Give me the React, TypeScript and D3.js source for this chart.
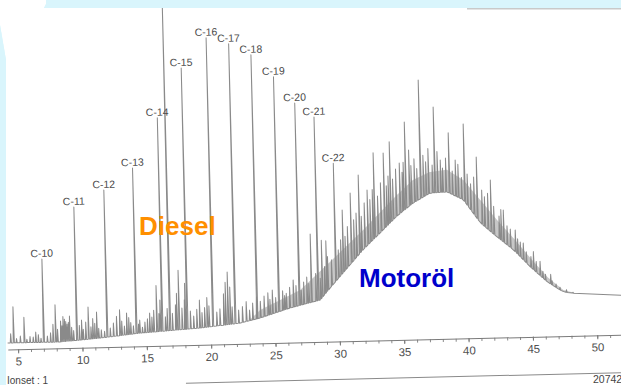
import React, { useEffect, useRef } from "react";
import * as d3 from "d3";

const width = 621;
const height = 385;

// n-alkane peaks: retention time (min) and signal height
const alkaneLabels = ["C-10", "C-11", "C-12", "C-13", "C-14", "C-15", "C-16", "C-17", "C-18", "C-19", "C-20", "C-21", "C-22"];
const alkaneTimes = [7.02, 9.6, 11.96, 14.23, 16.25, 18.2, 20.19, 21.93, 23.64, 25.35, 26.95, 28.42, 29.83];
const alkaneHeights = [25.4, 40.9, 45.8, 52.3, 67.3, 82.2, 91.2, 89.2, 85.7, 78.9, 70.8, 66.4, 52.2];

// off-scale peak right after C-14
const offScaleTime = 16.85;
const offScaleHeight = 106;

// lower edge of the trace (baseline + unresolved hump)
const baseTimes = [4.0, 8.26, 11.38, 14.49, 19.17, 22.29, 23.85, 26.2, 28.56, 29.36, 31.98, 33.34, 34.69, 35.96, 37.3, 38.62, 39.86, 41.14, 42.41, 43.65, 44.93, 46.23, 47.45, 48.75, 50.31, 51.94, 54];
const baseLevels = [0.2, 0.1, 1.0, 2.2, 3.3, 4.5, 5.9, 8.7, 10.9, 14.5, 25.8, 30.8, 35.8, 39.6, 42.5, 42.7, 40.2, 33.1, 28.7, 24.7, 19.4, 14.7, 11.5, 10.8, 9.8, 9.9, 9.9];

// upper edge of the dense grey band of the hump
const bandTimes = [23.0, 23.87, 27.02, 29.4, 32.02, 34.73, 35.98, 37.34, 38.65, 39.9, 41.18, 42.44, 43.66, 44.95, 46.24, 47.45, 48.5];
const bandLevels = [5.2, 8.3, 14.1, 22.4, 31.8, 42.2, 46.6, 48.9, 49.4, 46.2, 40.0, 33.8, 28.3, 22.1, 16.2, 12.1, 11.0];

// unlabeled peaks in the diesel range [time, height]
const dieselPeaks = [
  [4.68, 11.1], [5.51, 7.9], [6.4, 3.3], [7.95, 11.4], [8.54, 7.8], [8.75, 6.3], [9.05, 7.9],
  [9.98, 6.6], [10.51, 10.5], [11.16, 8.9], [12.95, 9.4], [13.49, 8.4], [14.5, 6.2], [15.28, 8.2],
  [15.83, 16.5], [16.1, 12.1], [17.57, 21.0], [18.05, 17.0], [19.17, 11.8], [19.56, 9.5],
  [21.38, 20.1], [21.55, 15.5], [23.05, 8.4], [23.6, 12.6], [24.85, 14.3], [25.93, 13.2],
  [26.49, 17.2], [27.1, 14.0], [27.9, 31.0], [28.75, 29.0], [29.1, 28.8],
];

// small "grass" peaks in the diesel range
const dieselGrass = [
  [4.45, 3.0], [4.9, 1.5], [5.2, 2.2], [5.7, 1.2], [5.95, 2.0], [6.2, 1.8], [6.6, 2.5], [6.8, 1.4],
  [7.3, 2.0], [7.55, 3.0], [7.75, 5.5], [8.1, 4.0], [8.35, 6.5], [8.45, 5.0], [8.65, 7.0], [8.85, 5.5],
  [8.95, 6.0], [9.2, 4.5], [9.35, 3.5], [9.8, 5.0], [10.1, 3.8], [10.3, 6.0], [10.7, 4.5], [10.85, 7.0],
  [11.0, 5.5], [11.3, 4.0], [11.5, 3.5], [11.75, 3.0], [12.2, 4.0], [12.45, 5.5], [12.7, 7.5], [13.1, 6.0],
  [13.3, 4.5], [13.65, 7.0], [13.8, 5.5], [14.0, 4.5], [14.4, 5.0], [14.7, 4.0], [14.9, 5.5], [15.1, 6.5],
  [15.45, 7.0], [15.6, 9.0], [16.0, 8.0], [16.5, 7.0], [16.65, 9.5], [17.05, 8.0], [17.3, 10.5], [17.4, 14.0],
  [17.8, 9.5], [18.0, 12.0], [18.45, 8.5], [18.7, 7.0], [18.95, 9.0], [19.35, 8.0], [19.75, 12.5], [19.9, 10.0],
  [20.5, 8.0], [20.75, 9.0], [21.05, 13.5], [21.2, 17.0], [21.7, 9.5], [22.2, 8.5], [22.5, 9.5], [22.8, 11.0],
  [23.3, 10.5], [23.9, 11.0], [24.2, 12.5], [24.5, 13.5], [24.65, 11.5], [25.1, 12.0], [25.65, 14.0], [25.8, 12.5],
  [26.2, 15.0], [26.7, 15.5], [27.3, 16.5], [27.55, 18.0], [27.7, 16.0],
];

// taller spikes standing out of the motor oil hump
const humpPeaks = [
  [30.43, 38.0], [31.08, 43.1], [31.74, 48.5], [32.4, 43.9], [32.94, 55.1], [33.72, 55.0], [34.21, 58.3],
  [34.95, 51.8], [35.42, 64.2], [35.7, 55.7], [36.58, 76.8], [37.69, 68.5], [38.14, 52.4], [38.81, 60.6],
  [39.3, 52.3], [39.99, 63.2], [40.94, 53.1], [41.99, 46.0], [42.94, 36.8], [43.83, 30.7], [44.43, 26.7],
  [45.2, 24.0], [45.7, 21.0], [46.5, 17.0],
];

// dense small peaks inside the hump
const humpGrass = [
  [28.25, 19], [28.6, 17.5], [28.95, 21], [29.2, 24], [29.5, 23], [30.05, 26], [30.25, 29], [30.6, 30],
  [30.8, 33], [31.3, 35], [31.5, 37], [31.9, 36], [32.15, 40], [32.6, 41], [32.8, 44], [33.2, 42],
  [33.45, 46], [33.9, 45], [34.05, 48], [34.4, 47], [34.65, 50], [35.15, 49], [35.25, 52], [35.85, 51],
  [36.1, 53], [36.3, 50], [36.8, 54], [37.0, 52], [37.2, 56], [37.5, 51], [37.9, 55], [38.3, 50],
  [38.55, 53], [39.05, 49], [39.5, 51], [39.75, 47], [40.2, 48], [40.45, 45], [40.7, 47], [41.3, 43],
  [41.5, 41], [41.75, 42], [42.2, 38], [42.6, 35], [42.75, 37], [43.2, 32], [43.45, 31], [44.0, 28],
  [44.2, 27], [44.65, 24], [45.0, 22.5], [45.4, 21], [45.9, 18], [46.1, 17], [46.6, 15], [46.9, 14],
  [47.2, 13], [47.7, 12.2], [48.2, 11.4],
];

const tickLabels = [5, 10, 15, 20, 25, 30, 35, 40, 45, 50];

const font = "'Liberation Sans', Arial, sans-serif";

export default function App() {
  const ref = useRef(null);

  useEffect(() => {
    const svg = d3.select(ref.current);
    svg.selectAll("*").remove();

    // paper
    svg.append("rect").attr("width", width).attr("height", height).attr("fill", "#d9f5fc");
    svg
      .append("polygon")
      .attr("points", "0,0 48,0 44,8 621,8 621,385 6,385 6,60 0,25")
      .attr("fill", "#ffffff");

    const axisY = 342;
    const x = d3.scaleLinear().domain([5, 50]).range([18, 597.3]);
    const y = d3.scaleLinear().domain([0, 100]).range([336, 6]);
    const base = d3.scaleLinear().domain(baseTimes).range(baseLevels).clamp(true);
    const band = d3.scaleLinear().domain(bandTimes).range(bandLevels).clamp(true);

    const g = svg.append("g").attr("transform", "rotate(-1.4, 320, 342)");

    // dense band of the hump
    const bandTs = Array.from(new Set([...bandTimes, ...baseTimes.filter((t) => t > 23 && t < 48.5)])).sort(
      (a, b) => a - b
    );
    g.append("path")
      .datum(bandTs)
      .attr(
        "d",
        d3
          .area()
          .x((t) => x(t))
          .y0((t) => y(base(t)))
          .y1((t) => y(band(t)))
      )
      .attr("fill", "#bdbdbd")
      .attr("opacity", 0.85);

    // trace
    const peaks = [
      ...alkaneTimes.map((t, i) => [t, alkaneHeights[i]]),
      [offScaleTime, offScaleHeight],
      ...dieselPeaks,
      ...dieselGrass,
      ...humpPeaks,
      ...humpGrass,
    ].sort((a, b) => a[0] - b[0]);

    const hw = 0.045;
    const pts = [[4.2, base(4.2)]];
    peaks.forEach(([t, v]) => {
      pts.push([t - hw, base(t - hw)], [t, Math.max(v, base(t) + 0.3)], [t + hw, base(t + hw)]);
    });
    pts.push([52.8, base(52.8)]);

    g.append("path")
      .datum(pts)
      .attr(
        "d",
        d3
          .line()
          .x((d) => x(d[0]))
          .y((d) => y(d[1]))
      )
      .attr("fill", "none")
      .attr("stroke", "#8a8a8a")
      .attr("stroke-width", 1)
      .attr("stroke-linejoin", "round");

    // peak labels
    g.selectAll("text.lbl")
      .data(alkaneLabels)
      .enter()
      .append("text")
      .attr("class", "lbl")
      .attr("x", (d, i) => x(alkaneTimes[i]))
      .attr("y", (d, i) => y(alkaneHeights[i]) - 2)
      .attr("text-anchor", "middle")
      .attr("font-family", font)
      .attr("font-size", 10.5)
      .attr("fill", "#4a4a4a")
      .text((d) => d);

    // time axis
    const xAxisScale = x.copy().domain([4.2, 52.8]).range([x(4.2), x(52.8)]);
    const minor = g
      .append("g")
      .attr("transform", `translate(0,${axisY})`)
      .call(d3.axisBottom(xAxisScale).tickValues(d3.range(5, 53)).tickSize(3).tickFormat(() => ""));
    minor.select(".domain").remove();
    minor.selectAll("line").attr("stroke", "#8a8a8a");

    const major = g
      .append("g")
      .attr("transform", `translate(0,${axisY})`)
      .call(d3.axisBottom(xAxisScale).tickValues(tickLabels).tickSize(4).tickSizeOuter(0).tickPadding(4));
    major.select(".domain").attr("stroke", "#7a7a7a");
    major.selectAll("line").attr("stroke", "#7a7a7a");
    major.selectAll("text").attr("font-family", font).attr("font-size", 11.5).attr("fill", "#505050");

    // box line near the bottom of the printout
    g.append("line")
      .attr("x1", 185)
      .attr("x2", 650)
      .attr("y1", 380)
      .attr("y2", 380)
      .attr("stroke", "#8a8a8a")
      .attr("stroke-width", 1);

    // cyan frame on top
    svg.append("rect").attr("x", 46).attr("y", 0).attr("width", width - 46).attr("height", 8).attr("fill", "#d9f5fc");
    svg.append("polygon").attr("points", "48,0 44,8 52,8 52,0").attr("fill", "#d9f5fc");
    svg.append("polygon").attr("points", "0,25 6,60 6,385 0,385").attr("fill", "#d9f5fc");
    svg.append("line")
      .attr("x1", 467)
      .attr("x2", 621)
      .attr("y1", 8.8)
      .attr("y2", 8.8)
      .attr("stroke", "#c9c9c9")
      .attr("stroke-width", 1.5);

    // footer texts
    svg.append("text")
      .attr("x", 7)
      .attr("y", 384)
      .attr("font-family", font)
      .attr("font-size", 10)
      .attr("fill", "#444")
      .text("Ionset : 1");
    svg.append("text")
      .attr("x", 593)
      .attr("y", 383)
      .attr("font-family", font)
      .attr("font-size", 10.5)
      .attr("fill", "#444")
      .text("20742");

    // annotations
    svg.append("text")
      .attr("x", 139)
      .attr("y", 235)
      .attr("font-family", font)
      .attr("font-weight", "bold")
      .attr("font-size", 26)
      .attr("fill", "#ff8f00")
      .text("Diesel");
    svg.append("text")
      .attr("x", 359)
      .attr("y", 287)
      .attr("font-family", font)
      .attr("font-weight", "bold")
      .attr("font-size", 26)
      .attr("fill", "#0000cc")
      .text("Motoröl");
  }, []);

  return (
    <svg
      ref={ref}
      width={width}
      height={height}
      style={{ position: "absolute", left: 0, top: 0, display: "block" }}
    ></svg>
  );
}
